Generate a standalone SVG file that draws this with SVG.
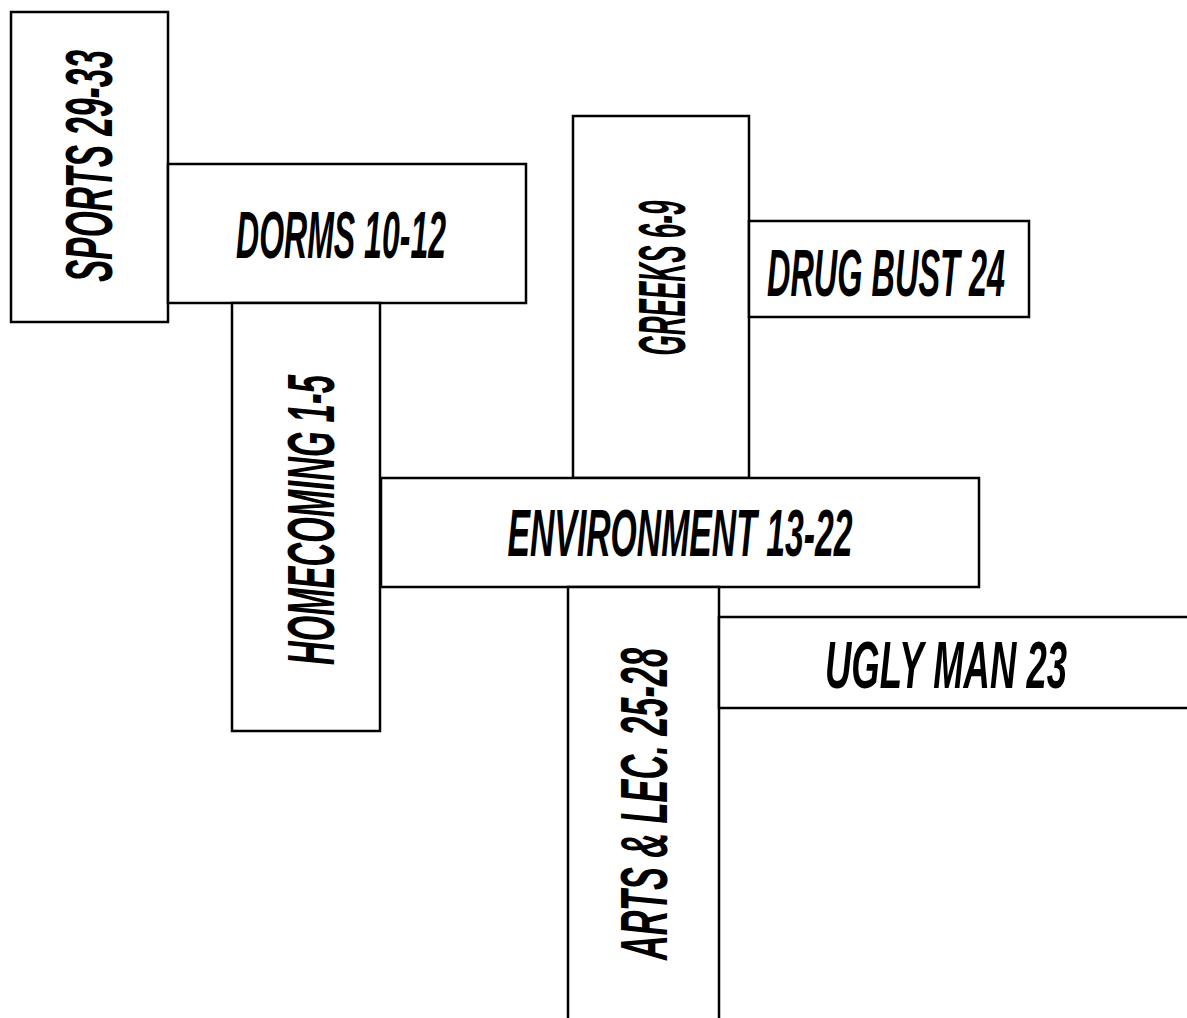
<svg xmlns="http://www.w3.org/2000/svg" width="1187" height="1018" viewBox="0 0 1187 1018">
<style>
rect.box{fill:#fff;stroke:#000;stroke-width:2.5}
text.lbl{font-family:"Liberation Sans","DejaVu Sans",sans-serif;font-weight:bold;font-style:italic;font-size:66px;fill:#000;text-anchor:middle}
</style>
<rect width="1187" height="1018" fill="#fff"/>
<g id="sports">
<rect class="box" x="11" y="12" width="157" height="310"/>
<text class="lbl" transform="translate(88,166) rotate(-90)" x="0" y="24" textLength="232" lengthAdjust="spacingAndGlyphs">SPORTS 29-33</text>
</g>
<g id="dorms">
<rect class="box" x="168" y="164" width="358" height="139"/>
<text class="lbl" x="341" y="258" textLength="210" lengthAdjust="spacingAndGlyphs">DORMS 10-12</text>
</g>
<g id="homecoming">
<rect class="box" x="232" y="303" width="148" height="428"/>
<text class="lbl" transform="translate(309,520) rotate(-90)" x="0" y="25" textLength="290" lengthAdjust="spacingAndGlyphs">HOMECOMING 1-5</text>
</g>
<g id="greeks">
<rect class="box" x="573" y="116" width="176" height="362"/>
<text class="lbl" transform="translate(661,278) rotate(-90)" x="0" y="24" textLength="155" lengthAdjust="spacingAndGlyphs">GREEKS 6-9</text>
</g>
<g id="drugbust">
<rect class="box" x="749" y="221" width="280" height="96"/>
<text class="lbl" x="886" y="296" textLength="238" lengthAdjust="spacingAndGlyphs">DRUG BUST 24</text>
</g>
<g id="environment">
<rect class="box" x="381" y="478" width="598" height="109"/>
<text class="lbl" x="680" y="556" textLength="345" lengthAdjust="spacingAndGlyphs">ENVIRONMENT 13-22</text>
</g>
<g id="artslec">
<rect class="box" x="568" y="587" width="151" height="440"/>
<text class="lbl" transform="translate(640,804) rotate(-90)" x="0" y="27" textLength="312" lengthAdjust="spacingAndGlyphs">ARTS &amp; LEC. 25-28</text>
</g>
<g id="uglyman">
<rect class="box" x="719" y="617" width="480" height="91"/>
<text class="lbl" x="946" y="688" textLength="242" lengthAdjust="spacingAndGlyphs">UGLY MAN 23</text>
</g>
<g id="connectors"></g>
</svg>
